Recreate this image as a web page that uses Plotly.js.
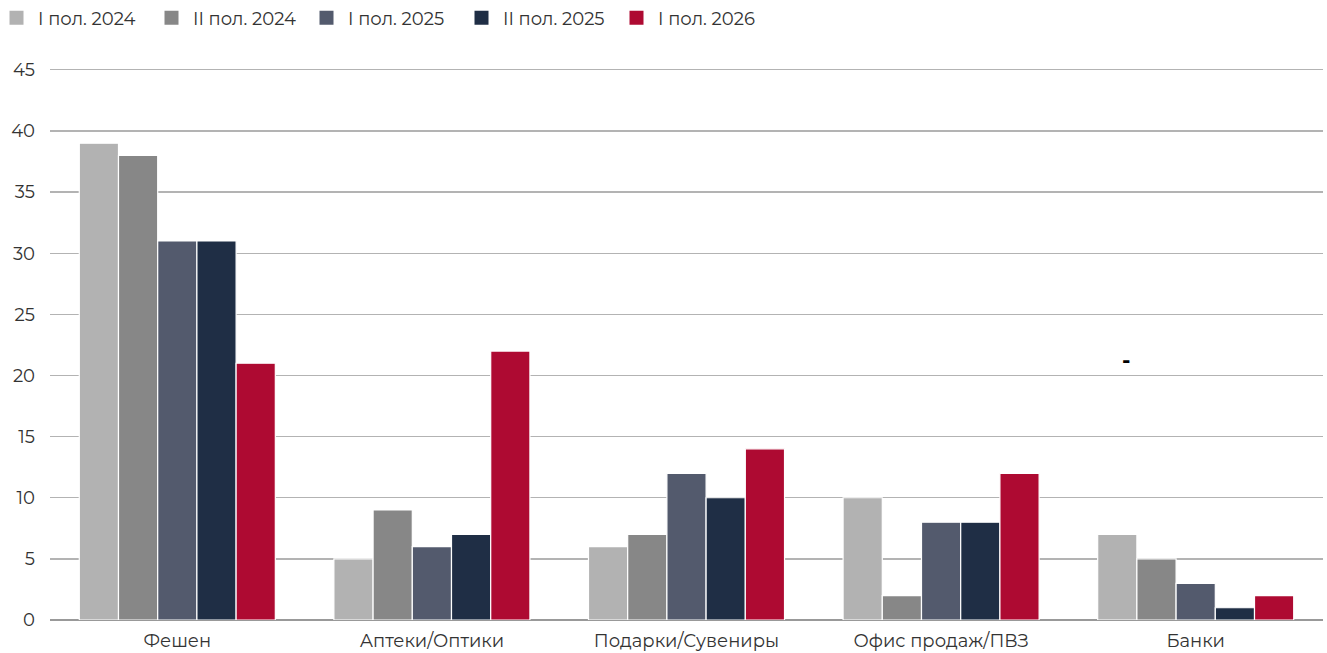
<!DOCTYPE html>
<html><head><meta charset="utf-8">
<script src="https://cdn.plot.ly/plotly-3.0.1.min.js"></script>
<style>html,body{margin:0;padding:0;background:#fff}#c{width:1327px;height:653px}</style>
</head><body><div id="c"></div>
<script>
const categories = ["Фешен","Аптеки/Оптики","Подарки/Сувениры","Офис продаж/ПВЗ","Банки"];
const seriesNames = ["I пол. 2024","II пол. 2024","I пол. 2025","II пол. 2025","I пол. 2026"];
const s2024H1 = [39,5,6,10,7];
const s2024H2 = [38,9,7,2,5];
const s2025H1 = [31,6,12,8,3];
const s2025H2 = [31,7,10,8,1];
const s2026H1 = [21,22,14,12,2];
const seriesValues = [s2024H1,s2024H2,s2025H1,s2025H2,s2026H1];
const colors = ["#b2b2b2","#878787","#535a6d","#1f2e45","#ae0a32"];
const yTicks = [0,5,10,15,20,25,30,35,40,45];

const font = "Montserrat, 'Noto Sans', 'Open Sans', sans-serif";
const traces = seriesNames.map((n,i)=>({
  type:'bar', name:n, x:categories, y:seriesValues[i], showlegend:false,
  marker:{color:colors[i], line:{color:'#ffffff', width:1.2}},
  hoverinfo:'none'
}));
seriesNames.forEach((n,i)=>traces.push({
  type:'scatter', mode:'markers', name:n, x:[null], y:[null],
  marker:{symbol:'square', size:14, color:colors[i]}, showlegend:true, hoverinfo:'none'
}));

const layout = {
  width:1327, height:653,
  margin:{l:50, r:4, t:68, b:33, autoexpand:false},
  paper_bgcolor:'#fff', plot_bgcolor:'#fff',
  barmode:'group', bargap:0.23, bargroupgap:0,
  font:{family:font, color:'#333', size:18},
  showlegend:true,
  legend:{orientation:'h', x:-0.0432, xanchor:'left', y:1.0906, yanchor:'middle',
    font:{size:18, color:'#333333'}, itemwidth:33, entrywidth:107, entrywidthmode:'pixels',
    traceorder:'normal', bgcolor:'rgba(0,0,0,0)'},
  xaxis:{type:'category', showgrid:false, showline:false, zeroline:false,
    ticks:'', ticklabelstandoff:8, tickfont:{size:18, color:'#333'}},
  yaxis:{range:[0,45.15], tickvals:yTicks, ticktext:yTicks.map(String),
    showgrid:true, gridcolor:'#b3b3b3', gridwidth:1.3, zeroline:true, zerolinecolor:'#999', zerolinewidth:2,
    showline:false, ticks:'', ticklabelstandoff:14, tickfont:{size:18, color:'#333'}},
  annotations:[{x:categories[4], y:21.2, xref:'x', yref:'y', xshift:-69, text:'<b>-</b>',
    showarrow:false, font:{size:22, color:'#000'}}]
};
Plotly.newPlot('c', traces, layout, {displayModeBar:false, staticPlot:true});
</script></body></html>
